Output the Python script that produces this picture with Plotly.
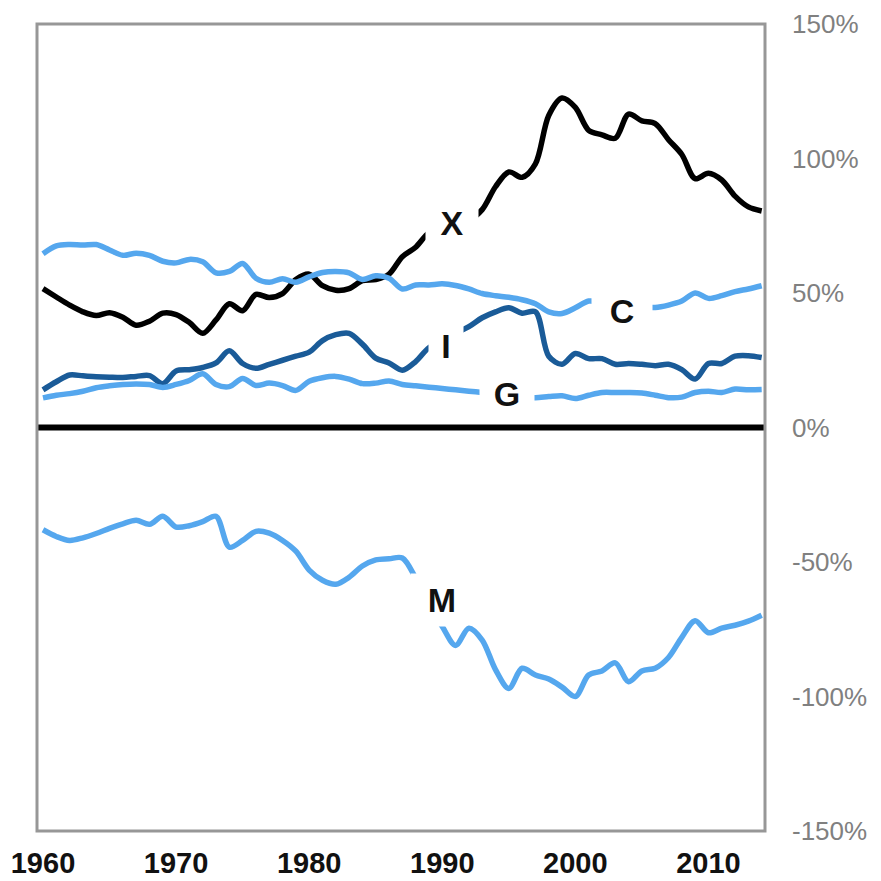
import plotly.graph_objects as go

years = list(range(1960, 2015))

exports_x = [51.6, 48.5, 45.5, 43, 41.6, 42.7, 41, 38, 39.5, 42.5,
             42, 39, 35, 40, 46, 43.4, 49.5, 48.3, 49.8, 55,
             57, 52.7, 51, 51.6, 54.6, 55, 57, 63.5, 67, 72.4,
             74, 75.5, 77, 81, 89.5, 95, 93, 98, 116, 122.5,
             119, 110.5, 108.8, 107.5, 116.5, 114, 113, 107, 101.5, 92.5,
             94.5, 92, 86, 82, 80.5]

consumption_c = [64.6, 67.5, 68, 67.8, 68, 66, 64, 64.8, 64, 61.8,
                 61.2, 62.5, 61.6, 57.5, 58, 61, 55.5, 54, 55.3, 54,
                 56, 57.6, 58, 57.5, 55, 56.4, 55.5, 51.5, 53, 53,
                 53.4, 52.8, 51.5, 49.8, 49, 48.4, 47.5, 46, 43, 42.4,
                 44.5, 47, 46.5, 45.5, 45, 44.8, 44.6, 45.5, 47, 50,
                 48, 49, 50.5, 51.5, 52.7]

investment_i = [14, 17, 19.5, 19.2, 18.9, 18.7, 18.6, 19, 19.3, 16.3,
                21, 21.5, 22.3, 24, 28.5, 23.8, 22, 23.5, 25, 26.5,
                28, 32.3, 34.5, 35, 31, 25.8, 24, 21.3, 24.5, 29.7,
                32, 35, 37.5, 40.8, 43, 44.5, 42.5, 43, 26.5, 23.5,
                27.5, 25.6, 25.6, 23.5, 23.8, 23.5, 23, 23.5, 21.5, 18,
                23.8, 23.8, 26.5, 26.7, 26]

government_g = [11, 12, 12.6, 13.5, 14.8, 15.5, 16, 16.2, 16, 14.9,
                16, 17.5, 20, 16, 15.2, 18.2, 15.6, 16.5, 15.6, 13.8,
                17.2, 18.5, 19, 18, 16.3, 16.5, 17.3, 16, 15.5, 15,
                14.5, 14, 13.5, 13, 12.5, 12, 11.5, 11.1, 11.5, 11.8,
                10.8, 12, 13, 13, 13, 12.8, 12, 11.1, 11.3, 13,
                13.5, 13, 14.3, 14, 14.1]

imports_m = [-38, -40.5, -42, -41, -39.4, -37.5, -35.8, -34.5, -36, -33,
             -37, -36.5, -35, -33, -44.5, -42, -38.6, -39.3, -42, -46,
             -53, -56.8, -58.3, -55.7, -51.5, -49.2, -48.8, -48.5, -56, -66,
             -74, -81, -74.6, -79, -90, -97, -89.5, -92, -93.5, -96.5,
             -100, -92, -90.5, -87.5, -94.5, -90.5, -89.5, -85.5, -78, -71.8,
             -76.3, -74.6, -73.5, -72, -69.8]

x_ticks = [1960, 1970, 1980, 1990, 2000, 2010]
y_ticks = [-150, -100, -50, 0, 50, 100, 150]
y_tick_text = ["-150%", "-100%", "-50%", "0%", "50%", "100%", "150%"]

# series label text, anchor year, anchor value, box width, box height, text align
labels = [
    ("X", 1990.7, 76, 50, 40, "center"),
    ("C", 2003.5, 43.4, 58, 40, "center"),
    ("I", 1990.3, 30.4, 32, 40, "center"),
    ("G", 1994.9, 12.6, 52, 34, "center"),
    ("M", 1989.4, -64, 44, 50, "right"),
]

LIGHT = "#55A7EE"
DARK = "#1A5B98"
BLACK = "#000000"

fig = go.Figure()
series = [
    ("X", exports_x, BLACK),
    ("C", consumption_c, LIGHT),
    ("I", investment_i, DARK),
    ("G", government_g, LIGHT),
    ("M", imports_m, LIGHT),
]
for name, vals, col in series:
    fig.add_trace(go.Scatter(
        x=years, y=vals, mode="lines", name=name,
        line=dict(color=col, width=5.5, shape="spline", smoothing=0.9),
        showlegend=False, hoverinfo="skip"))

# zero line
fig.add_shape(type="line", xref="paper", x0=0, x1=1, yref="y", y0=0, y1=0,
              line=dict(color="black", width=6))
# frame
fig.add_shape(type="rect", xref="paper", yref="paper", x0=0, x1=1, y0=0, y1=1,
              line=dict(color="#979797", width=3))

for txt, xv, yv, w, h, al in labels:
    fig.add_annotation(x=xv, y=yv, text="<b>%s</b>" % txt, showarrow=False,
                       font=dict(family="Liberation Sans, Arial", size=34, color="#111111"),
                       bgcolor="white", width=w, height=h, align=al,
                       xanchor="center", yanchor="middle")

fig.update_layout(
    width=873, height=873,
    margin=dict(l=29, r=116, t=16, b=50),
    paper_bgcolor="white", plot_bgcolor="white",
    font=dict(family="Liberation Sans, Arial"),
    xaxis=dict(range=[1959.55, 2014.25], tickvals=x_ticks,
               ticktext=["<b>%d</b>" % v for v in x_ticks],
               showgrid=False, zeroline=False, showline=False, ticks="",
               automargin=False, ticklabeloverflow="allow",
               tickfont=dict(size=29, color="#111111"), ticklabelstandoff=12),
    yaxis=dict(range=[-150, 150], side="right", tickvals=y_ticks, ticktext=y_tick_text,
               showgrid=False, zeroline=False, showline=False, ticks="",
               automargin=False, ticklabeloverflow="allow",
               tickfont=dict(size=26, color="#808080"), ticklabelstandoff=26),
)

fig.write_html("out.html")
